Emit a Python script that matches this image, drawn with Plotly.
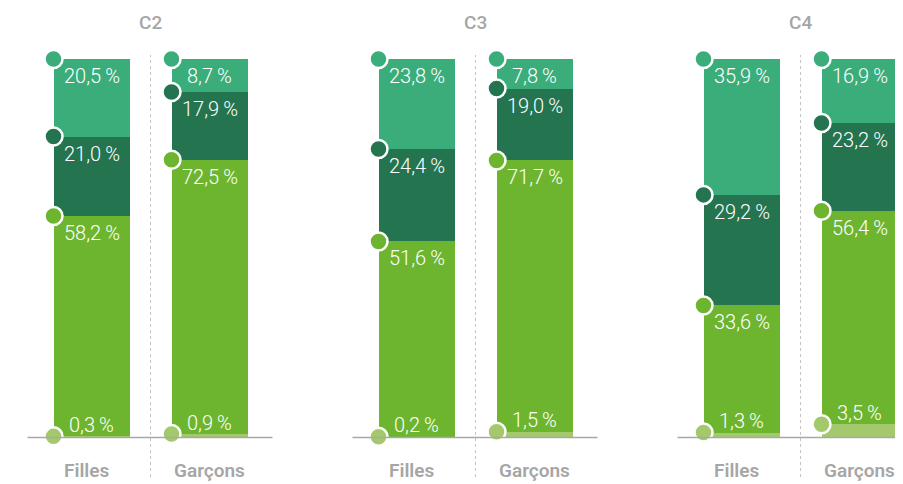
import plotly.graph_objects as go

# ---- data (bottom segment to top segment) ----
groups = ["C2", "C3", "C4"]
sexes = ["Filles", "Garçons"]
seg_light = [0.3, 0.9, 0.2, 1.5, 1.3, 3.5]      # order: C2 F, C2 G, C3 F, C3 G, C4 F, C4 G
seg_green = [58.2, 72.5, 51.6, 71.7, 33.6, 56.4]
seg_dark = [21.0, 17.9, 24.4, 19.0, 29.2, 23.2]
seg_mid = [20.5, 8.7, 23.8, 7.8, 35.9, 16.9]

series = [seg_light, seg_green, seg_dark, seg_mid]
colors = ["#A3C96C", "#6DB52E", "#247450", "#3AAD7B"]

# ---- layout geometry ----
W, H = 903, 484
PAGE_OFF = 8.0                      # default page margin around the plot div
BASE_Y = 437.5 - PAGE_OFF           # pixel row of value 0 inside the figure
TOP_Y = 59.0 - PAGE_OFF             # pixel row of value 100 inside the figure
PX_PER_UNIT_Y = (BASE_Y - TOP_Y) / 100.0
ymin = -(H - BASE_Y) / PX_PER_UNIT_Y
ymax = BASE_Y / PX_PER_UNIT_Y

def yval(px_view):
    return (BASE_Y - (px_view - PAGE_OFF)) / PX_PER_UNIT_Y

GROUP_PX = 325.0
FIRST_CENTER_PX = 150.5 - PAGE_OFF
BAR_OFF = 59.0 / GROUP_PX
BAR_W = 76.0 / GROUP_PX
xmin = -FIRST_CENTER_PX / GROUP_PX
xmax = (W - FIRST_CENTER_PX) / GROUP_PX

xs = []
for gi, g in enumerate(groups):
    for si, s in enumerate(sexes):
        xs.append(gi + (si - 0.5) * 2 * BAR_OFF)

fig = go.Figure()
for vals, col in zip(series, colors):
    fig.add_trace(go.Bar(x=xs, y=vals, width=BAR_W, marker=dict(color=col, line_width=0),
                         hoverinfo="skip", showlegend=False))

# cumulative tops
tops = []
cum = [0.0] * len(xs)
for vals in series:
    cum = [c + v for c, v in zip(cum, vals)]
    tops.append(list(cum))

def fmt(v):
    return f"{v:.1f}".replace(".", ",") + "\u2009%"

GRAY = "#A6A6A6"
# baselines, dividers, titles, category labels
for gi in range(len(groups)):
    left = gi - BAR_OFF - BAR_W / 2 - 26 / GROUP_PX
    right = gi + BAR_OFF + BAR_W / 2 + 25 / GROUP_PX
    fig.add_shape(type="line", x0=left, x1=right, y0=0, y1=0,
                  line=dict(color="#A8A8A8", width=1.5), layer="above")
    fig.add_shape(type="line", x0=gi, x1=gi, y0=yval(477), y1=yval(55),
                  line=dict(color="#C4C4C4", width=1, dash="dot"), layer="below")
    fig.add_annotation(x=gi, y=yval(22.5), text=groups[gi], showarrow=False,
                       font=dict(family="Roboto", size=19, color=GRAY, weight=500))
    for si, s in enumerate(sexes):
        fig.add_annotation(x=gi + (si - 0.5) * 2 * BAR_OFF, y=yval(470), text=s,
                           showarrow=False, xshift=-5 if si == 0 else 0,
                           font=dict(family="Roboto", size=19, color=GRAY, weight=600))

# circles at segment tops and value labels
for k, (vals, col) in enumerate(zip(series, colors)):
    fig.add_trace(go.Scatter(x=[x - BAR_W / 2 for x in xs], y=tops[k], mode="markers",
                             marker=dict(size=18, color=col, line=dict(color="white", width=2.5)),
                             hoverinfo="skip", showlegend=False))
    for i, x in enumerate(xs):
        fig.add_annotation(x=x, y=tops[k][i], text=fmt(vals[i]), showarrow=False,
                           yshift=11.5 if k == 0 else -17,
                           font=dict(family="Roboto", size=20, color="white", weight=300))

fig.update_layout(
    width=W, height=H, barmode="stack", bargap=0,
    margin=dict(l=0, r=0, t=0, b=0),
    plot_bgcolor="white", paper_bgcolor="white",
    xaxis=dict(range=[xmin, xmax], visible=False, fixedrange=True),
    yaxis=dict(range=[ymin, ymax], visible=False, fixedrange=True),
)

fig.write_html("out.html")
